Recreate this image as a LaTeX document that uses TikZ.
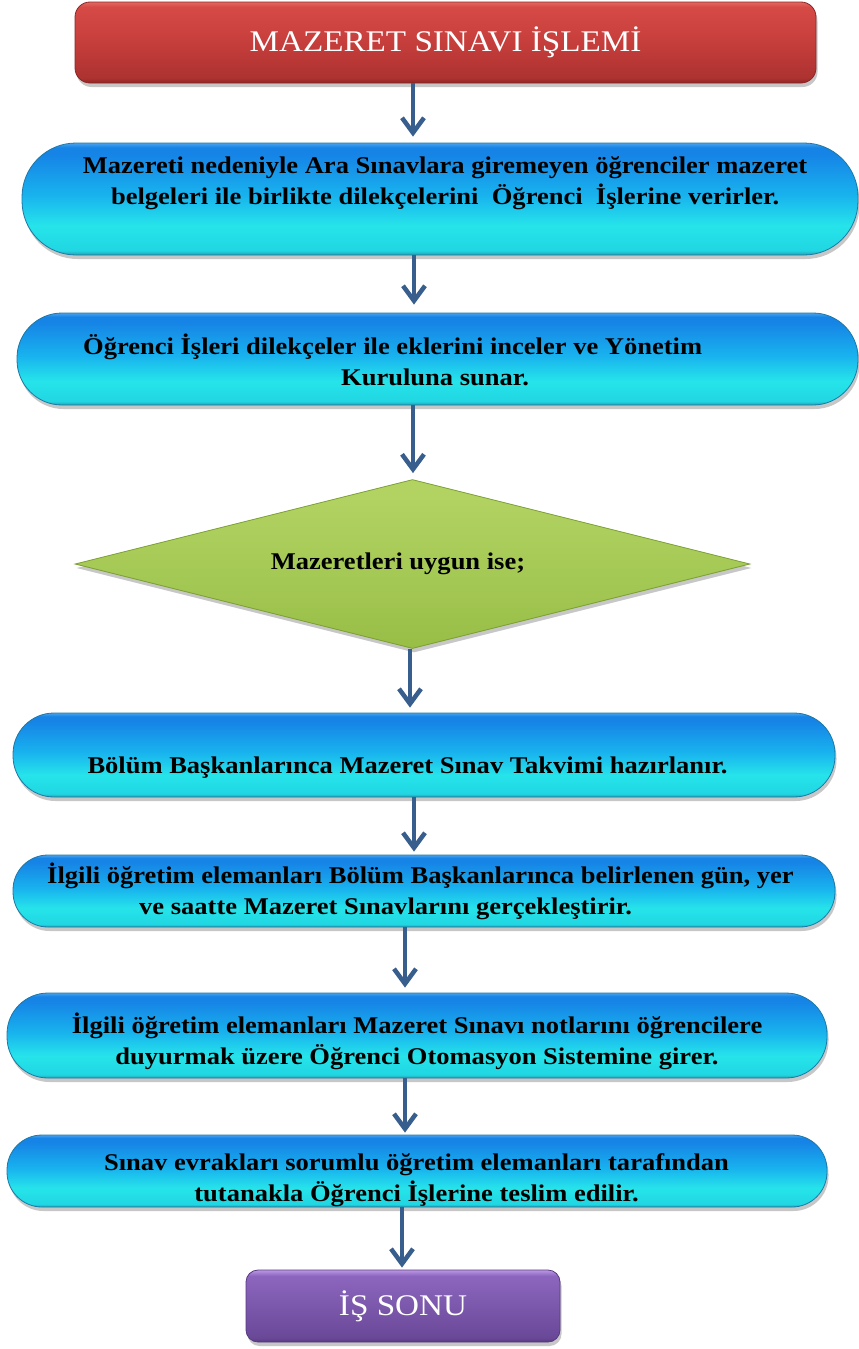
\documentclass[tikz,border=0pt]{standalone}
\usepackage{fontspec}
\setmainfont{Liberation Serif}[FakeStretch=1.105]
\usetikzlibrary{shapes.geometric,arrows.meta,shadows}

% palette
\definecolor{arrowblue}{RGB}{56,94,142}
\definecolor{blueEdge}{RGB}{36,160,170}
\definecolor{blueLow}{RGB}{32,214,226}
\definecolor{blueCyan}{RGB}{38,228,234}
\definecolor{blueMid}{RGB}{24,178,238}
\definecolor{blueTop}{RGB}{22,132,230}
\definecolor{blueRim}{RGB}{75,162,236}
\definecolor{blueLine}{RGB}{30,120,165}
\definecolor{redEdge}{RGB}{140,38,38}
\definecolor{redLow}{RGB}{172,50,48}
\definecolor{redMid}{RGB}{198,62,60}
\definecolor{redTop}{RGB}{214,74,70}
\definecolor{redRim}{RGB}{226,104,98}
\definecolor{purEdge}{RGB}{88,58,128}
\definecolor{purLow}{RGB}{106,72,152}
\definecolor{purMid}{RGB}{124,88,172}
\definecolor{purTop}{RGB}{140,102,190}
\definecolor{purRim}{RGB}{188,152,228}
\definecolor{grnLow}{RGB}{152,190,70}
\definecolor{grnMid}{RGB}{164,200,84}
\definecolor{grnTop}{RGB}{178,210,98}
\definecolor{grnLine}{RGB}{124,160,52}

% glossy vertical fills (25bp = bottom, 75bp = top of the shape)
\pgfdeclareverticalshading{glassblue}{100bp}{color(0bp)=(blueEdge); color(25bp)=(blueEdge);
  color(27bp)=(blueLow); color(38bp)=(blueCyan); color(52bp)=(blueMid);
  color(70bp)=(blueTop); color(73bp)=(blueTop); color(75bp)=(blueRim); color(100bp)=(blueRim)}
\pgfdeclareverticalshading{glassred}{100bp}{color(0bp)=(redEdge); color(25bp)=(redEdge);
  color(28bp)=(redLow); color(50bp)=(redMid); color(72bp)=(redTop);
  color(75bp)=(redRim); color(100bp)=(redRim)}
\pgfdeclareverticalshading{glasspurple}{100bp}{color(0bp)=(purEdge); color(25bp)=(purEdge);
  color(28bp)=(purLow); color(50bp)=(purMid); color(71bp)=(purTop);
  color(75bp)=(purRim); color(100bp)=(purRim)}
\pgfdeclareverticalshading{glassgreen}{100bp}{color(0bp)=(grnLow); color(25bp)=(grnLow);
  color(45bp)=(grnMid); color(70bp)=(grnTop); color(100bp)=(grnTop)}

\tikzset{
  softshadow/.style={drop shadow={shadow xshift=1.5pt, shadow yshift=-4pt, fill=black, opacity=0.22}},
  titlebox/.style={rectangle, rounded corners=15pt, shading=glassred, draw=redEdge,
    line width=0.8pt, softshadow, inner sep=0pt, text=white,
    font=\fontsize{30}{34}\selectfont},
  endbox/.style={rectangle, rounded corners=12pt, shading=glasspurple, draw=purEdge,
    line width=0.8pt, softshadow, inner sep=0pt, text=white,
    font=\fontsize{30}{34}\selectfont},
  stepbox/.style={rectangle, shading=glassblue, draw=blueLine, line width=0.8pt,
    softshadow, inner sep=0pt},
  decisionbox/.style={diamond, shading=glassgreen, draw=grnLine, line width=0.8pt,
    softshadow, inner sep=0pt},
  steptext/.style={inner sep=0pt, align=center, font=\bfseries\fontsize{24}{31}\selectfont},
  leftsteptext/.style={steptext, align=left, anchor=west},
  flow/.style={draw=arrowblue, line width=4.5pt,
    -{Straight Barb[length=15pt, width=22pt, line width=4.5pt]}},
}

\begin{document}
\begin{tikzpicture}[x=1pt, y=-1pt]
  \useasboundingbox (0,0) rectangle (859,1349);

  % start
  \node[titlebox, minimum width=741pt, minimum height=81pt] (b1) at (445.5,42.5) {MAZERET SINAVI İŞLEMİ};

  % step 1
  \node[stepbox, rounded corners=54pt, minimum width=836pt, minimum height=112pt] (b2) at (440,199) {};
  \node[steptext] (t2) at (445,183) {Mazereti nedeniyle Ara Sınavlara giremeyen öğrenciler mazeret\\
    belgeleri ile birlikte dilekçelerini~ Öğrenci~ İşlerine verirler.};

  % step 2
  \node[stepbox, rounded corners=45pt, minimum width=841pt, minimum height=92pt] (b3) at (437.5,359) {};
  \node[leftsteptext] (t3) at (83,360) {Öğrenci İşleri dilekçeler ile eklerini inceler ve Yönetim\\
    \hspace*{258pt}Kuruluna sunar.};

  % decision
  \node[decisionbox, minimum width=675pt, minimum height=169pt] (d4) at (412.5,564) {};
  \node[steptext] (t4) at (398,564) {Mazeretleri uygun ise;};

  % step 3
  \node[stepbox, rounded corners=41pt, minimum width=822pt, minimum height=84pt] (b5) at (424,755) {};
  \node[steptext] (t5) at (407.5,768) {Bölüm Başkanlarınca Mazeret Sınav Takvimi hazırlanır.};

  % step 4
  \node[stepbox, rounded corners=35pt, minimum width=822pt, minimum height=72pt] (b6) at (424,891) {};
  \node[leftsteptext] (t6) at (47,891) {İlgili öğretim elemanları Bölüm Başkanlarınca belirlenen gün, yer\\
    \hspace*{92pt}ve saatte Mazeret Sınavlarını gerçekleştirir.};

  % step 5
  \node[stepbox, rounded corners=41pt, minimum width=820pt, minimum height=85pt] (b7) at (417,1035.5) {};
  \node[steptext] (t7) at (417,1041) {İlgili öğretim elemanları Mazeret Sınavı notlarını öğrencilere\\
    duyurmak üzere Öğrenci Otomasyon Sistemine girer.};

  % step 6
  \node[stepbox, rounded corners=35pt, minimum width=820pt, minimum height=72pt] (b8) at (417,1171) {};
  \node[steptext] (t8) at (416.5,1180) {Sınav evrakları sorumlu öğretim elemanları tarafından\\
    tutanakla Öğrenci İşlerine teslim edilir.};

  % end
  \node[endbox, minimum width=314pt, minimum height=72pt] (b9) at (403,1306) {İŞ SONU};

  % connectors
  \draw[flow, shorten >=6pt] ([xshift=-32.5pt]b1.south) -- ([xshift=-27pt]b2.north);
  \draw[flow, shorten >=8pt] ([xshift=-26pt]b2.south) -- ([xshift=-23.5pt]b3.north);
  \draw[flow, shorten >=6pt] ([xshift=-24.5pt]b3.south) -- ([xshift=0.5pt]d4.north);
  \draw[flow, shorten >=5pt] ([xshift=-2.5pt]d4.south) -- ([xshift=-14pt]b5.north);
  \draw[flow, shorten >=3pt] ([xshift=-10pt]b5.south) -- ([xshift=-10pt]b6.north);
  \draw[flow, shorten >=5pt] ([xshift=-19pt]b6.south) -- ([xshift=-12pt]b7.north);
  \draw[flow, shorten >=2pt] ([xshift=-12pt]b7.south) -- ([xshift=-12pt]b8.north);
  \draw[flow, shorten >=2pt] ([xshift=-15pt]b8.south) -- ([xshift=-1pt]b9.north);
\end{tikzpicture}
\end{document}
